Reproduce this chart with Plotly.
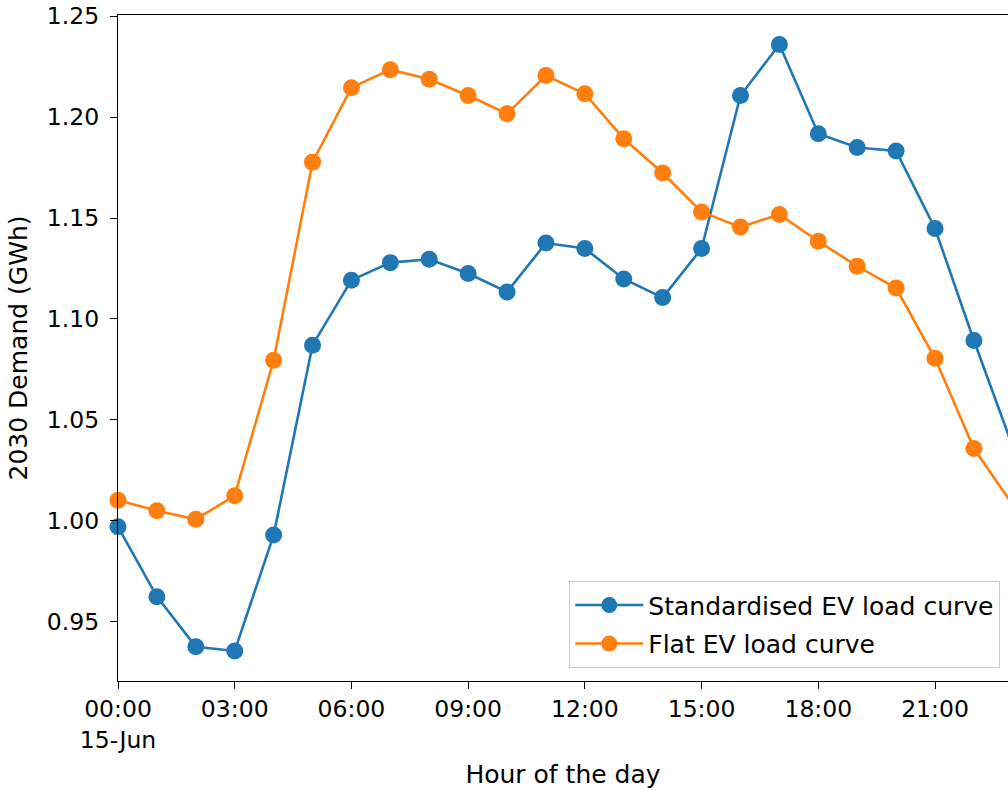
import plotly.graph_objects as go

hours = [f"2030-06-15 {h:02d}:00" for h in range(24)]

standardised_ev = [0.9970, 0.9624, 0.9376, 0.9355, 0.9929, 1.0870, 1.1192, 1.1279,
                   1.1296, 1.1225, 1.1134, 1.1376, 1.1349, 1.1198, 1.1106, 1.1349,
                   1.2107, 1.2360, 1.1918, 1.1849, 1.1832, 1.1448, 1.0893, 1.0366]

flat_ev = [1.0102, 1.0050, 1.0007, 1.0124, 1.0795, 1.1777, 1.2146, 1.2235,
           1.2188, 1.2107, 1.2017, 1.2206, 1.2116, 1.1893, 1.1723, 1.1530,
           1.1455, 1.1518, 1.1385, 1.1261, 1.1153, 1.0805, 1.0358, 1.0078]

tick_times = ["2030-06-15 00:00", "2030-06-15 03:00", "2030-06-15 06:00", "2030-06-15 09:00",
              "2030-06-15 12:00", "2030-06-15 15:00", "2030-06-15 18:00", "2030-06-15 21:00"]
tick_text = ["00:00<br>15-Jun", "03:00", "06:00", "09:00", "12:00", "15:00", "18:00", "21:00"]

y_ticks = [0.95, 1.00, 1.05, 1.10, 1.15, 1.20, 1.25]

FONT = "DejaVu Sans"
TICK_FS = 23.5
LABEL_FS = 25

fig = go.Figure()
fig.add_trace(go.Scatter(x=hours, y=standardised_ev, mode="lines+markers",
                         name="Standardised EV load curve", legendgroup="a",
                         line=dict(color="#1f77b4", width=2.6),
                         marker=dict(color="#1f77b4", size=17),
                         cliponaxis=False))
fig.add_trace(go.Scatter(x=hours, y=flat_ev, mode="lines+markers",
                         name="Flat EV load curve", legendgroup="b",
                         line=dict(color="#ff7f0e", width=2.6),
                         marker=dict(color="#ff7f0e", size=17),
                         cliponaxis=False))

fig.update_layout(
    width=1008, height=792,
    margin=dict(l=118, r=0, t=14.5, b=111, pad=0),
    paper_bgcolor="white", plot_bgcolor="white",
    font=dict(family=FONT, size=TICK_FS, color="#000000"),
    showlegend=True,
    legend=dict(x=0.991, y=0.0195, xanchor="right", yanchor="bottom",
                bgcolor="rgba(255,255,255,0.8)", bordercolor="#cccccc", borderwidth=1.3,
                font=dict(family=FONT, size=LABEL_FS, color="#000000"),
                itemwidth=68, tracegroupgap=3),
    xaxis=dict(type="date",
               range=["2030-06-15 00:00:00", "2030-06-15 22:52:34"],
               tickmode="array", tickvals=tick_times, ticktext=tick_text,
               ticks="outside", ticklen=7, tickwidth=1.3, tickcolor="#000000",
               tickfont=dict(family=FONT, size=TICK_FS),
               showline=True, linecolor="#000000", linewidth=1.3, mirror=True,
               showgrid=False, zeroline=False,
               title=dict(text="Hour of the day", standoff=12,
                          font=dict(family=FONT, size=LABEL_FS))),
    yaxis=dict(range=[0.9206, 1.2506],
               tickmode="array", tickvals=y_ticks, tickformat=".2f",
               ticks="outside", ticklen=7, tickwidth=1.3, tickcolor="#000000",
               tickfont=dict(family=FONT, size=TICK_FS), ticklabelstandoff=6,
               ticklabeloverflow="allow",
               showline=True, linecolor="#000000", linewidth=1.3, mirror=False,
               showgrid=False, zeroline=False,
               title=dict(text="2030 Demand (GWh)", standoff=12,
                          font=dict(family=FONT, size=LABEL_FS))),
)

fig.write_html("out.html", config={"displayModeBar": False},
               post_script="document.body.style.margin='0';")
